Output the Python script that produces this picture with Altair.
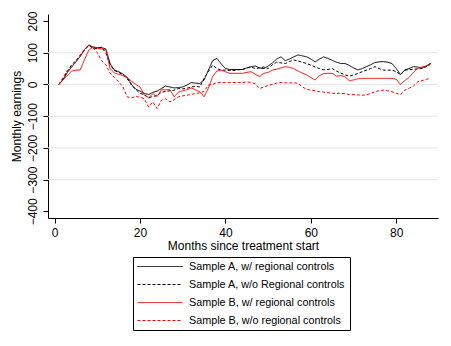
import altair as alt
import pandas as pd

months = list(range(1, 89))

a_w = [0, 15, 38, 55, 72, 88, 110, 124, 118, 116,
       116, 112, 65, 45, 40, 33, 22, 0, -15, -21,
       -28, -32, -25, -21, -13, -5, -8, -11, -10, -8,
       -2, 6, 4, 3, 14, 45, 75, 82, 65, 50,
       47, 47, 47, 47, 52, 56, 58, 52, 50, 58,
       68, 80, 87, 75, 80, 87, 93, 90, 87, 80,
       71, 80, 87, 82, 76, 70, 66, 66, 60, 52,
       46, 50, 56, 62, 69, 71, 72, 70, 66, 50,
       31, 46, 50, 56, 55, 52, 58, 66]

a_wo = [0, 18, 42, 62, 75, 92, 108, 122, 115, 112,
        118, 98, 62, 44, 38, 30, 18, -2, -16, -28,
        -32, -42, -38, -35, -25, -22, -20, -18, -13, -14,
        -12, -8, -6, -8, 19, 40, 61, 50, 45, 45,
        44, 44, 46, 47, 52, 55, 50, 52, 55, 50,
        62, 70, 68, 66, 72, 77, 74, 70, 66, 61,
        55, 50, 46, 47, 50, 42, 36, 30, 26, 30,
        35, 40, 45, 50, 56, 50, 45, 45, 45, 40,
        31, 45, 46, 48, 49, 50, 56, 66]

b_w = [0, 15, 28, 42, 45, 46, 78, 108, 118, 114,
       112, 110, 50, 36, 32, 28, 22, 10, 0, -8,
       -34, -42, -29, -38, -17, -17, -17, -39, -24, -20,
       -17, -11, -17, -23, -39, -12, 25, 42, 45, 40,
       35, 35, 35, 35, 38, 40, 32, 25, 35, 38,
       45, 48, 52, 56, 54, 50, 42, 36, 30, 22,
       14, 28, 34, 35, 35, 26, 28, 24, 12, 14,
       18, 19, 19, 19, 19, 19, 19, 19, 19, 16,
       0, 12, 22, 38, 50, 55, 58, 62]

b_wo = [0, 22, 45, 58, 70, 92, 110, 125, 115, 100,
        75, 62, 35, 22, 8, -8, -39, -42, -38, -40,
        -45, -71, -55, -76, -50, -45, -55, -48, -39, -36,
        -34, -31, -29, -26, -22, -2, 0, 6, 6, 6,
        6, 6, 6, 6, 8, 6, 2, -13, -8, -3,
        0, 4, 6, 5, 5, 5, 4, -8, -15, -18,
        -20, -23, -24, -26, -28, -28, -28, -29, -32, -32,
        -33, -34, -33, -28, -23, -20, -18, -20, -23, -28,
        -32, -18, -12, -5, 8, 12, 16, 19]

series_names = [
    "Sample A, w/ regional controls",
    "Sample A, w/o Regional controls",
    "Sample B, w/ regional controls",
    "Sample B, w/o regional controls",
]
series_colors = ["#000000", "#000000", "#ff0000", "#ff0000"]
series_dash = [[1, 0], [3, 2], [1, 0], [3, 2]]

grid_values = [100, 0, -100, -200, -300]
x_ticks = [0, 20, 40, 60, 80]
y_ticks = [-400, -300, -200, -100, 0, 100, 200]

rows = []
for name, vals in zip(series_names, [a_w, a_wo, b_w, b_wo]):
    for m, v in zip(months, vals):
        rows.append({"month": m, "value": v, "series": name})
df = pd.DataFrame(rows)

FONT = "Liberation Sans"
xscale = alt.Scale(domain=[-1.55, 89.77], nice=False, zero=False)
yscale = alt.Scale(domain=[-421, 222], nice=False, zero=False)

y_axis = alt.Axis(values=y_ticks, title="Monthly earnings", grid=False,
                  labelAngle=270, labelAlign="center",
                  labelBaseline="bottom", labelFontSize=12,
                  labelPadding=4, tickSize=5, titlePadding=3,
                  titleFontSize=12)

grid = alt.Chart(pd.DataFrame({"g": grid_values})).mark_rule(
    color="#e6e6e6", strokeWidth=1
).encode(y=alt.Y("g:Q", scale=yscale, axis=y_axis, title="Monthly earnings"))

leg = alt.Legend(
    title=None, orient="none", legendX=85, legendY=243,
    strokeColor="#000000", fillColor="#ffffff", padding=4,
    symbolType="M-1,0H8", symbolSize=100, symbolStrokeWidth=1,
    labelFont=FONT, labelFontSize=10.8, labelColor="#000000",
    labelOffset=41, rowPadding=6, labelLimit=300,
)

lines = alt.Chart(df).mark_line(strokeWidth=1).encode(
    x=alt.X("month:Q", scale=xscale,
            axis=alt.Axis(values=x_ticks, title="Months since treatment start",
                          grid=False, labelFontSize=12, labelPadding=4,
                          tickSize=5, titlePadding=2, titleFontSize=12)),
    y=alt.Y("value:Q", scale=yscale, axis=y_axis, title="Monthly earnings"),
    color=alt.Color("series:N", scale=alt.Scale(domain=series_names, range=series_colors), legend=leg),
    strokeDash=alt.StrokeDash("series:N", scale=alt.Scale(domain=series_names, range=series_dash), legend=leg),
    order=alt.Order("month:Q"),
)

chart = alt.layer(grid, lines).properties(
    width=390, height=204,
    autosize=alt.AutoSizeParams(type="none"),
    padding={"left": 40, "top": 6, "right": 5, "bottom": 120},
    background="#ffffff",
).configure_view(stroke=None).configure_axis(
    domainColor="#000000", tickColor="#000000", labelColor="#000000",
    titleColor="#000000", labelFont=FONT, titleFont=FONT,
    titleFontWeight="normal", domainWidth=1, tickWidth=1,
)

chart.save("out.html", embed_options={"renderer": "svg", "actions": False})
